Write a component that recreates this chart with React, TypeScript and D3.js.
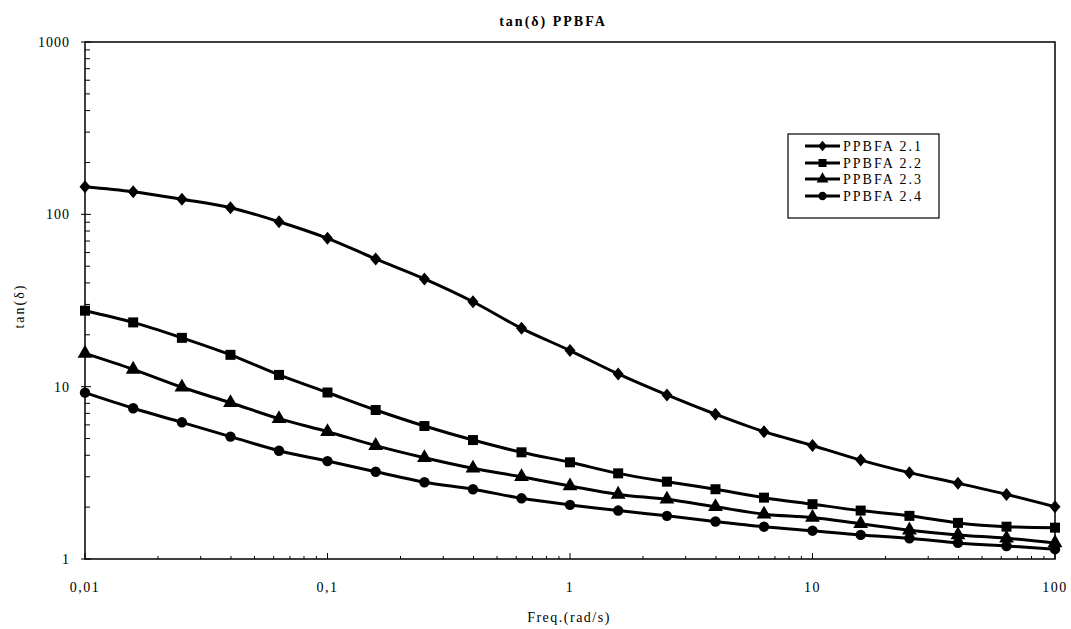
import React from "react";
import * as d3 from "d3";

// Frequencies: 5 points per decade, 0.01 → 100 rad/s
const freqs = [
  0.01, 0.0158, 0.0251, 0.0398, 0.0631, 0.1, 0.158, 0.251, 0.398, 0.631, 1,
  1.58, 2.51, 3.98, 6.31, 10, 15.8, 25.1, 39.8, 63.1, 100,
];

const ppbfa21 = [
  144.6, 135.3, 122.3, 109.3, 90.6, 72.6, 55.1, 42.2, 31.1, 21.8, 16.2, 11.85,
  8.95, 6.92, 5.48, 4.56, 3.75, 3.17, 2.75, 2.37, 2.01,
];
const ppbfa22 = [
  27.6, 23.6, 19.2, 15.3, 11.7, 9.25, 7.32, 5.91, 4.9, 4.16, 3.64, 3.14, 2.81,
  2.54, 2.27, 2.08, 1.91, 1.78, 1.62, 1.54, 1.52,
];
const ppbfa23 = [
  15.6, 12.6, 9.92, 8.07, 6.52, 5.48, 4.55, 3.87, 3.36, 3.0, 2.65, 2.37, 2.22,
  2.01, 1.82, 1.74, 1.6, 1.47, 1.38, 1.32, 1.24,
];
const ppbfa24 = [
  9.23, 7.49, 6.21, 5.13, 4.25, 3.7, 3.21, 2.79, 2.54, 2.25, 2.06, 1.91, 1.78,
  1.65, 1.54, 1.46, 1.38, 1.32, 1.24, 1.19, 1.14,
];

const seriesNames = ["PPBFA 2.1", "PPBFA 2.2", "PPBFA 2.3", "PPBFA 2.4"];
const seriesValues = [ppbfa21, ppbfa22, ppbfa23, ppbfa24];

const xTickValues = [0.01, 0.1, 1, 10, 100];
const xTickLabels = ["0,01", "0,1", "1", "10", "100"];
const yTickValues = [1, 10, 100, 1000];
const yTickLabels = ["1", "10", "100", "1000"];

const W = 1071;
const H = 629;
const M = { left: 85, right: 1055, top: 42, bottom: 559 };
const FONT = "'Liberation Serif', 'Times New Roman', serif";

// Marker shapes: diamond, square, triangle, circle
const diamondPath = "M0,-6.5L5.5,0L0,6.5L-5.5,0Z";
const symbolPaths = [
  diamondPath,
  d3.symbol().type(d3.symbolSquare).size(100)() || "",
  d3.symbol().type(d3.symbolTriangle).size(95)() || "",
  d3.symbol().type(d3.symbolCircle).size(85)() || "",
];

function minorTicks(lo: number, hi: number): number[] {
  const out: number[] = [];
  for (let dec = lo; dec < hi; dec *= 10) {
    for (let k = 2; k <= 9; k++) out.push(dec * k);
  }
  return out;
}

export default function App() {
  const x = d3.scaleLog().domain([0.01, 100]).range([M.left, M.right]);
  const y = d3.scaleLog().domain([1, 1000]).range([M.bottom, M.top]);

  const line = d3
    .line<number>()
    .x((_, i) => x(freqs[i]))
    .y((v) => y(v))
    .curve(d3.curveCatmullRom.alpha(0.5));

  const xMinor = minorTicks(0.01, 100);
  const yMinor = minorTicks(1, 1000);

  const legendX = 788;
  const legendY = 134;
  const legendRowY = [146, 163, 179, 196];

  return (
    <svg
      width={W}
      height={H}
      style={{ display: "block", position: "absolute", left: 0, top: 0 }}
      fontFamily={FONT}
    >
      <rect width={W} height={H} fill="#fff" />
      <text x={553} y={26} textAnchor="middle" fontSize={14} fontWeight="bold" letterSpacing={2}>
        tan(δ) PPBFA
      </text>

      {/* plot frame */}
      <rect
        x={M.left}
        y={M.top}
        width={M.right - M.left}
        height={M.bottom - M.top}
        fill="none"
        stroke="#000"
        strokeWidth={1.5}
      />

      {/* x ticks */}
      {xMinor.map((v, i) => (
        <line key={"xm" + i} x1={x(v)} x2={x(v)} y1={M.bottom} y2={M.bottom - 3} stroke="#000" />
      ))}
      {xTickValues.map((v, i) => (
        <g key={"xt" + i}>
          <line x1={x(v)} x2={x(v)} y1={M.bottom} y2={M.bottom - 6} stroke="#000" />
          <text x={x(v)} y={592} textAnchor="middle" fontSize={14} letterSpacing={1.5}>
            {xTickLabels[i]}
          </text>
        </g>
      ))}

      {/* y ticks */}
      {yMinor.map((v, i) => (
        <line key={"ym" + i} x1={M.left} x2={M.left + 5} y1={y(v)} y2={y(v)} stroke="#000" />
      ))}
      {yTickValues.map((v, i) => (
        <g key={"yt" + i}>
          <line x1={M.left - 4} x2={M.left + 6} y1={y(v)} y2={y(v)} stroke="#000" />
          <text x={70} y={y(v) + 5} textAnchor="end" fontSize={14} letterSpacing={1}>
            {yTickLabels[i]}
          </text>
        </g>
      ))}

      <text x={569} y={622} textAnchor="middle" fontSize={14} letterSpacing={1.5}>
        Freq.(rad/s)
      </text>
      <text
        transform={`translate(24, 306) rotate(-90)`}
        textAnchor="middle"
        fontSize={14}
        letterSpacing={2}
      >
        tan(δ)
      </text>

      {/* series */}
      {seriesValues.map((vals, s) => (
        <g key={"s" + s}>
          <path d={line(vals) || ""} fill="none" stroke="#000" strokeWidth={3} />
          {vals.map((v, i) => (
            <path
              key={i}
              d={symbolPaths[s]}
              transform={`translate(${x(freqs[i])},${y(v)})`}
              fill="#000"
            />
          ))}
        </g>
      ))}

      {/* legend */}
      <rect
        x={legendX}
        y={legendY}
        width={151}
        height={84}
        fill="#fff"
        stroke="#000"
        strokeWidth={1.2}
      />
      {seriesNames.map((name, s) => (
        <g key={"l" + s}>
          <line x1={805} x2={840} y1={legendRowY[s]} y2={legendRowY[s]} stroke="#000" strokeWidth={3} />
          <path
            d={symbolPaths[s]}
            transform={`translate(822.5,${legendRowY[s]}) scale(0.8)`}
            fill="#000"
          />
          <text x={843} y={legendRowY[s] + 5} fontSize={14} letterSpacing={2}>
            {name}
          </text>
        </g>
      ))}
    </svg>
  );
}
